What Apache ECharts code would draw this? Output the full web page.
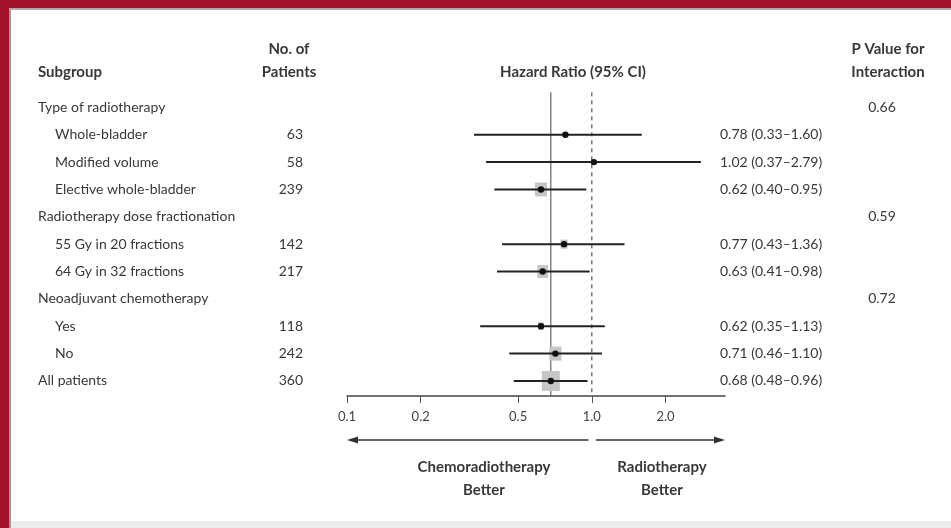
<!DOCTYPE html>
<html>
<head>
<meta charset="utf-8">
<script src="https://cdn.jsdelivr.net/npm/echarts@6/dist/echarts.min.js"></script>
<style>
  html, body { margin: 0; padding: 0; background: #fff; }
  #chart { width: 951px; height: 528px; }
</style>
</head>
<body>
<div id="chart"></div>
<script>
// subgroup rows, top to bottom
const rowLabels = ['Type of radiotherapy', 'Whole-bladder', 'Modified volume', 'Elective whole-bladder',
    'Radiotherapy dose fractionation', '55 Gy in 20 fractions', '64 Gy in 32 fractions',
    'Neoadjuvant chemotherapy', 'Yes', 'No', 'All patients'];
const rowIndent = [0, 1, 1, 1, 0, 1, 1, 0, 1, 1, 0];
const patients = [null, 63, 58, 239, null, 142, 217, null, 118, 242, 360];
const hr = [null, 0.78, 1.02, 0.62, null, 0.77, 0.63, null, 0.62, 0.71, 0.68];
const ciLow = [null, 0.33, 0.37, 0.40, null, 0.43, 0.41, null, 0.35, 0.46, 0.48];
const ciHigh = [null, 1.60, 2.79, 0.95, null, 1.36, 0.98, null, 1.13, 1.10, 0.96];
const hrText = [null, '0.78 (0.33\u20131.60)', '1.02 (0.37\u20132.79)', '0.62 (0.40\u20130.95)', null,
    '0.77 (0.43\u20131.36)', '0.63 (0.41\u20130.98)', null, '0.62 (0.35\u20131.13)',
    '0.71 (0.46\u20131.10)', '0.68 (0.48\u20130.96)'];
const pValues = ['0.66', null, null, null, '0.59', null, null, '0.72', null, null, null];
const xTicks = [0.1, 0.2, 0.5, 1.0, 2.0];
const overallHr = 0.68;

const chart = echarts.init(document.getElementById('chart'));
const font = 'Lato, "Open Sans", sans-serif';
const textColor = '#383838';
const bodyFont = '14px ' + font;
const headFont = 'bold 15px ' + font;

const rows = rowLabels.map((name, i) => i);
const estRows = rows.filter(i => hr[i] != null);

const option = {
    animation: false,
    textStyle: { fontFamily: font },
    grid: { left: 347, top: 80, width: 378, height: 316 },
    xAxis: {
        type: 'log',
        logBase: 10,
        min: 0.1,
        max: 3.5,
        position: 'bottom',
        splitLine: { show: false },
        axisLine: { onZero: false, lineStyle: { color: '#444', width: 1.5 } },
        axisTick: { customValues: xTicks, length: 7, inside: false, lineStyle: { color: '#555' } },
        axisLabel: {
            customValues: xTicks,
            color: '#444', fontSize: 13, margin: 14, fontFamily: font,
            formatter: v => (v >= 1 ? v.toFixed(1) : String(v))
        }
    },
    yAxis: {
        type: 'value', inverse: true, min: -1, max: 10.55,
        show: false
    },
    graphic: [
        { type: 'rect', shape: { x: 0, y: 0, width: 951, height: 8 }, style: { fill: '#a3122c' }, z: 100 },
        { type: 'rect', shape: { x: 0, y: 0, width: 9, height: 528 }, style: { fill: '#a3122c' }, z: 100 },
        { type: 'rect', shape: { x: 9, y: 8, width: 2, height: 520 }, style: { fill: '#999' }, z: 100 },
        { type: 'rect', shape: { x: 9, y: 8, width: 942, height: 2 }, style: { fill: '#aaa' }, z: 100 },
        { type: 'rect', shape: { x: 11, y: 521, width: 940, height: 7 }, style: { fill: '#ececec' }, z: 100 },
        { type: 'text', x: 38, y: 72, style: { text: 'Subgroup', font: headFont, fill: textColor, verticalAlign: 'middle' } },
        { type: 'text', x: 289, y: 38, style: { text: 'No. of\nPatients', font: headFont, fill: textColor, align: 'center', lineHeight: 23 } },
        { type: 'text', x: 573, y: 72, style: { text: 'Hazard Ratio (95% CI)', font: headFont, fill: textColor, align: 'center', verticalAlign: 'middle' } },
        { type: 'text', x: 888, y: 38, style: { text: 'P Value for\nInteraction', font: headFont, fill: textColor, align: 'center', lineHeight: 23 } },
        { type: 'text', x: 484, y: 456, style: { text: 'Chemoradiotherapy\nBetter', font: headFont, fill: textColor, align: 'center', lineHeight: 23 } },
        { type: 'text', x: 662, y: 456, style: { text: 'Radiotherapy\nBetter', font: headFont, fill: textColor, align: 'center', lineHeight: 23 } }
    ],
    series: [
        // text columns
        {
            type: 'custom',
            data: rows,
            silent: true,
            renderItem: function (params, api) {
                const i = api.value(0);
                const y = api.coord([1, i])[1];
                const children = [{
                    type: 'text',
                    style: {
                        x: rowIndent[i] ? 55 : 38, y: y, text: rowLabels[i],
                        font: bodyFont, fill: textColor, verticalAlign: 'middle'
                    }
                }];
                if (patients[i] != null) children.push({
                    type: 'text',
                    style: { x: 303, y: y, text: String(patients[i]), font: bodyFont, fill: textColor, align: 'right', verticalAlign: 'middle' }
                });
                if (hrText[i] != null) children.push({
                    type: 'text',
                    style: { x: 720, y: y, text: hrText[i], font: bodyFont, fill: textColor, verticalAlign: 'middle' }
                });
                if (pValues[i] != null) children.push({
                    type: 'text',
                    style: { x: 882, y: y, text: pValues[i], font: bodyFont, fill: textColor, align: 'center', verticalAlign: 'middle' }
                });
                return { type: 'group', children: children };
            },
            encode: { x: -1, y: 0 }
        },
        // reference lines
        {
            type: 'custom',
            data: [[overallHr, 0], [1.0, 1]],
            silent: true,
            z: 1,
            renderItem: function (params, api) {
                const top = api.coord([api.value(0), -0.55]);
                const bot = api.coord([api.value(0), 10.55]);
                return {
                    type: 'line',
                    shape: { x1: top[0], y1: top[1], x2: bot[0], y2: bot[1] },
                    style: { stroke: api.value(1) ? '#555' : '#666', lineWidth: 1.2, lineDash: api.value(1) ? [4, 4] : null }
                };
            }
        },
        // boxes, CI whiskers and points
        {
            type: 'custom',
            data: estRows.map(i => [i, hr[i], ciLow[i], ciHigh[i], patients[i]]),
            silent: true,
            z: 3,
            renderItem: function (params, api) {
                const row = api.value(0);
                const p = api.coord([api.value(1), row]);
                const lo = api.coord([api.value(2), row]);
                const hi = api.coord([api.value(3), row]);
                const s = api.value(4) / 20;
                return {
                    type: 'group',
                    children: [
                        { type: 'rect', shape: { x: p[0] - s / 2, y: p[1] - s / 2 - 1, width: s, height: s + 2 }, style: { fill: '#c6c6c6' } },
                        { type: 'line', shape: { x1: lo[0], y1: lo[1], x2: hi[0], y2: hi[1] }, style: { stroke: '#222', lineWidth: 2 } },
                        { type: 'circle', shape: { cx: p[0], cy: p[1], r: 3.2 }, style: { fill: '#111' } }
                    ]
                };
            }
        },
        // direction arrows under the axis
        {
            type: 'custom',
            data: [[0.97, 0.1], [1.04, 3.5]],
            silent: true,
            renderItem: function (params, api) {
                const a = api.coord([api.value(0), 0]);
                const b = api.coord([api.value(1), 0]);
                const y = 440;
                const dir = b[0] > a[0] ? 1 : -1;
                return {
                    type: 'group',
                    children: [
                        { type: 'line', shape: { x1: a[0], y1: y, x2: b[0] - dir * 8, y2: y }, style: { stroke: '#333', lineWidth: 1.5 } },
                        { type: 'polygon', shape: { points: [[b[0], y], [b[0] - dir * 11, y - 3.5], [b[0] - dir * 11, y + 3.5]] }, style: { fill: '#333' } }
                    ]
                };
            }
        }
    ]
};

chart.setOption(option);
</script>
</body>
</html>
